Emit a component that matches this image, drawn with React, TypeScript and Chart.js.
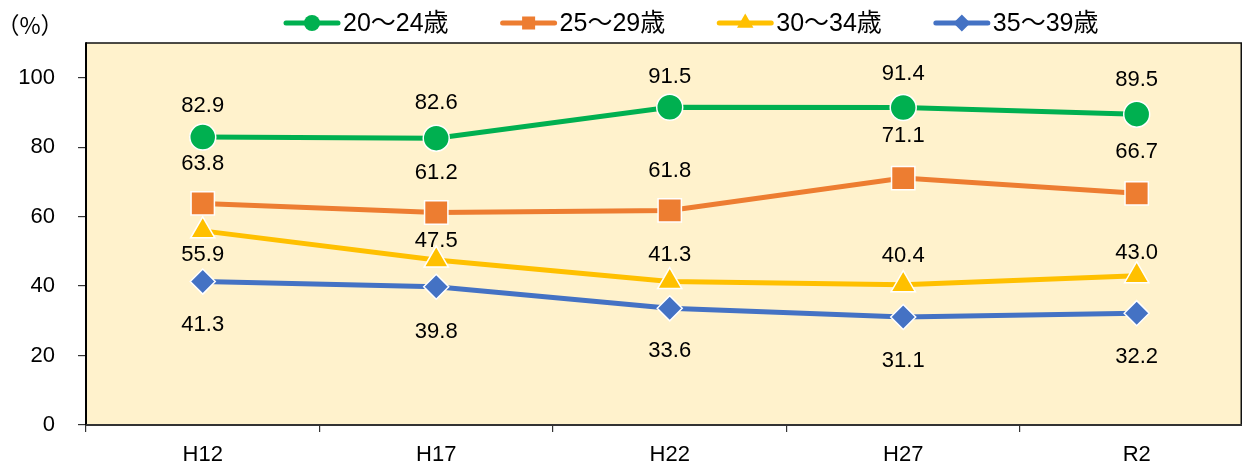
import React, { useEffect, useRef } from 'react';
import { Chart, registerables } from 'chart.js';
import { drawPoint } from 'chart.js/helpers';

Chart.register(...registerables);

const categories = ['H12', 'H17', 'H22', 'H27', 'R2'];
const seriesNames = ['20～24歳', '25～29歳', '30～34歳', '35～39歳'];
const age20to24 = [82.9, 82.6, 91.5, 91.4, 89.5];
const age25to29 = [63.8, 61.2, 61.8, 71.1, 66.7];
const age30to34 = [55.9, 47.5, 41.3, 40.4, 43.0];
const age35to39 = [41.3, 39.8, 33.6, 31.1, 32.2];
const yTickValues = [0, 20, 40, 60, 80, 100];
const unitLabel = '（%）';

const seriesValues = [age20to24, age25to29, age30to34, age35to39];
const colors = ['#00B050', '#ED7D31', '#FFC000', '#4472C4'];
const pointStyles = ['circle', 'rect', 'triangle', 'rectRot'];
const pointRadii = [13, 16.5, 14, 12.5];
const legendRadii = [8, 9.2, 9.5, 8.5];
// pixel offsets of the value labels from their points
const labelOffsets = [
  [-31, -35, -30, -34, -34],
  [-40, -40, -39, -42, -41],
  [24, -19, -27, -29, -23],
  [43, 45, 43, 44, 44],
];

const FONT = '"Liberation Sans", Arial, "Noto Sans CJK JP", sans-serif';

const decorPlugin = {
  id: 'decor',
  beforeDraw(chart: any) {
    const { ctx, chartArea } = chart;
    ctx.save();
    ctx.fillStyle = '#FFF2CC';
    ctx.fillRect(chartArea.left, chartArea.top, chartArea.right - chartArea.left, chartArea.bottom - chartArea.top);
    ctx.restore();
  },
  beforeDatasetsDraw(chart: any) {
    const { ctx, chartArea } = chart;
    const { left, right, top, bottom } = chartArea;
    ctx.save();
    ctx.strokeStyle = '#111';
    ctx.lineWidth = 1.5;
    ctx.beginPath();
    ctx.moveTo(left, top);
    ctx.lineTo(right - 0.75, top);
    ctx.lineTo(right - 0.75, bottom);
    ctx.stroke();
    ctx.lineWidth = 2;
    ctx.strokeStyle = '#000';
    ctx.beginPath();
    ctx.moveTo(left, top - 0.75);
    ctx.lineTo(left, bottom);
    ctx.stroke();
    ctx.strokeStyle = '#333';
    ctx.beginPath();
    ctx.moveTo(left, bottom);
    ctx.lineTo(right, bottom);
    ctx.stroke();
    ctx.restore();
  },
  afterDatasetsDraw(chart: any) {
    const { ctx } = chart;
    ctx.save();
    ctx.font = `22px ${FONT}`;
    ctx.fillStyle = '#000';
    ctx.textAlign = 'center';
    ctx.textBaseline = 'middle';
    chart.data.datasets.forEach((ds: any, i: number) => {
      const meta = chart.getDatasetMeta(i);
      meta.data.forEach((pt: any, j: number) => {
        const v = ds.data[j].y;
        ctx.fillText(v.toFixed(1), pt.x, pt.y + labelOffsets[i][j]);
      });
    });
    ctx.restore();
  },
  afterDraw(chart: any) {
    const { ctx } = chart;
    ctx.save();
    // unit label
    ctx.fillStyle = '#000';
    ctx.font = `23px "Noto Sans CJK JP", sans-serif`;
    ctx.textBaseline = 'middle';
    ctx.textAlign = 'center';
    ctx.fillText(unitLabel, 30, 25);
    // legend
    ctx.font = `25px ${FONT}`;
    ctx.textAlign = 'left';
    let x = 284;
    const y = 23;
    chart.data.datasets.forEach((ds: any, i: number) => {
      ctx.strokeStyle = ds.borderColor;
      ctx.lineWidth = 5;
      ctx.lineCap = 'round';
      ctx.beginPath();
      ctx.moveTo(x + 2, y);
      ctx.lineTo(x + 54, y);
      ctx.stroke();
      ctx.lineCap = 'butt';
      ctx.fillStyle = ds.backgroundColor;
      drawPoint(ctx, { pointStyle: ds.pointStyle, rotation: 0, radius: legendRadii[i], borderWidth: 0 } as any, x + 28, y);
      ctx.fillStyle = '#000';
      ctx.fillText(ds.label, x + 59, y + 1);
      const w = ctx.measureText(ds.label).width;
      x += 59 + w + 52;
    });
    ctx.restore();
  },
};

export default function App() {
  const canvasRef = useRef<HTMLCanvasElement | null>(null);

  useEffect(() => {
    document.body.style.margin = '0';
    const canvas = canvasRef.current;
    if (!canvas) return;
    const datasets = seriesValues.map((vals, i) => ({
      label: seriesNames[i],
      data: vals.map((v, j) => ({ x: j, y: v })),
      borderColor: colors[i],
      backgroundColor: colors[i],
      borderWidth: 5,
      tension: 0,
      clip: false,
      pointStyle: pointStyles[i],
      pointRadius: pointRadii[i],
      pointHoverRadius: pointRadii[i],
      pointBorderColor: '#FFFFFF',
      pointBorderWidth: 1.5,
      pointBackgroundColor: colors[i],
      order: seriesValues.length - i,
    }));
    const chart = new Chart(canvas, {
      type: 'line',
      data: { datasets } as any,
      plugins: [decorPlugin],
      options: {
        animation: false,
        responsive: false,
        maintainAspectRatio: false,
        layout: { autoPadding: false, padding: { top: 43, left: 0, right: 1, bottom: 0 } },
        plugins: { legend: { display: false }, tooltip: { enabled: false } },
        scales: {
          x: {
            type: 'linear',
            min: -0.5,
            max: 4.451,
            afterBuildTicks: (scale: any) => {
              scale.ticks = categories.map((_, i) => ({ value: i }));
            },
            afterFit: (scale: any) => {
              scale.height = 40;
              scale.paddingLeft = 0;
              scale.paddingRight = 0;
            },
            ticks: {
              autoSkip: false,
              maxRotation: 0,
              padding: 10,
              color: '#000',
              font: { size: 22, family: FONT },
              callback: (v: any) => categories[v] ?? '',
            },
            grid: {
              offset: true,
              drawOnChartArea: false,
              drawTicks: true,
              tickLength: 7,
              tickColor: '#333',
              lineWidth: 1.2,
            },
            border: { display: false },
          },
          y: {
            type: 'linear',
            min: 0,
            max: 110,
            afterBuildTicks: (scale: any) => {
              scale.ticks = yTickValues.map((v) => ({ value: v }));
            },
            afterFit: (scale: any) => {
              scale.width = 86;
              scale.paddingTop = 0;
              scale.paddingBottom = 0;
            },
            ticks: {
              padding: 23,
              color: '#000',
              font: { size: 22, family: FONT },
            },
            grid: {
              drawOnChartArea: false,
              drawTicks: true,
              tickLength: 8,
              tickColor: '#333',
              lineWidth: 1.2,
            },
            border: { display: false },
          },
        },
      } as any,
    });
    return () => chart.destroy();
  }, []);

  return (
    <div style={{ position: 'absolute', left: 0, top: 0, width: 1243, height: 465 }}>
      <canvas ref={canvasRef} width={1243} height={465} style={{ display: 'block' }} />
    </div>
  );
}
